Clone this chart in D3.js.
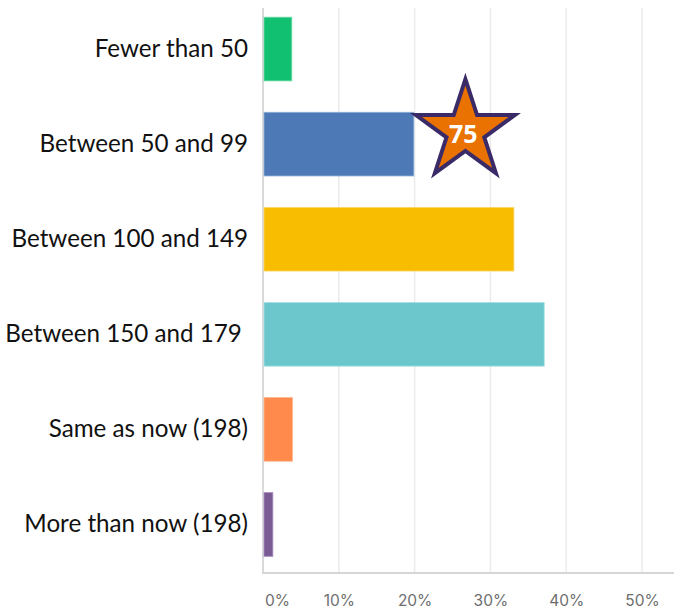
<!DOCTYPE html>
<html><head><meta charset="utf-8">
<script src="https://cdn.jsdelivr.net/npm/d3@7"></script>
<style>html,body{margin:0;padding:0;background:#fff;}svg{display:block;}</style>
</head><body>
<div id="chart"></div>
<script>
const categories = ["Fewer than 50","Between 50 and 99","Between 100 and 149","Between 150 and 179 ","Same as now (198)","More than now (198)"];
const values = [3.8, 19.9, 33.1, 37.1, 3.9, 1.3];
const colors = ["#12c072","#4d7ab6","#f8bd00","#6bc7cc","#ff8a4c","#7b5b94"];
const strokes = ["#6fdca8","#8fb0d8","#fdd86a","#a6e1e4","#ffb88f","#a88cc0"];
const tickValues = [0,10,20,30,40,50];
const starLabel = "75";
const starAt = {category: "Between 50 and 99", value: 26.7};

const W = 674, H = 610;
const svg = d3.select("#chart").append("svg").attr("width", W).attr("height", H);
const x = d3.scaleLinear().domain([0,50]).range([263, 642]);
const y = d3.scaleBand().domain(categories).range([1.5, 572]).paddingInner(0.33).paddingOuter(0.165);

// gridlines
svg.append("g").selectAll("line").data(tickValues.slice(1)).join("line")
  .attr("x1", d => x(d)).attr("x2", d => x(d)).attr("y1", 8).attr("y2", 573)
  .attr("stroke", "#ebebeb").attr("stroke-width", 1.5);

// axis frame
svg.append("path").attr("d", `M${x(0)},8 V573 H674`).attr("fill","none")
  .attr("stroke","#d6d6d6").attr("stroke-width",1.8);

// bars
svg.append("g").selectAll("rect").data(categories).join("rect")
  .attr("x", x(0)+1).attr("y", d => y(d))
  .attr("width", (d,i) => x(values[i]) - x(0) - 1)
  .attr("height", y.bandwidth())
  .attr("fill", (d,i) => colors[i])
  .attr("stroke", (d,i) => strokes[i]).attr("stroke-width", 0.8);

// category labels
svg.append("g").selectAll("text").data(categories).join("text")
  .attr("x", 248).attr("y", d => y(d) + y.bandwidth()/2)
  .attr("dy", "0.33em").attr("text-anchor","end")
  .style("white-space","pre")
  .attr("font-family","Lato, 'Open Sans', sans-serif").attr("font-size", 24.2)
  .attr("fill","#111").text(d => d);

// x tick labels
const xAxis = d3.axisBottom(x).tickValues(tickValues).tickSize(0).tickPadding(0).tickFormat(d => d + "%");
const gx = svg.append("g").attr("transform","translate(0,601)").call(xAxis);
gx.select(".domain").remove();
gx.selectAll("text").attr("font-family","Inter, Roboto, sans-serif").attr("font-size",15.5)
  .attr("fill","#6e6e6e").attr("dy","0.3em")
  .attr("dx", d => d === 0 ? 14 : 0);

// star annotation
const cx = x(starAt.value), cy = y(starAt.category) + y.bandwidth()/2 - 13;
const R = 52, r = R * 0.382;
const pts = d3.range(10).map(i => {
  const a = -Math.PI/2 + i * Math.PI/5;
  const rad = i % 2 === 0 ? R : r;
  return [cx + rad*Math.cos(a), cy + rad*Math.sin(a)];
});
svg.append("path").attr("d", "M" + pts.join("L") + "Z")
  .attr("fill","#e97200").attr("stroke","#3a2b68").attr("stroke-width",4).attr("stroke-linejoin","miter");
svg.append("text").attr("x", cx-2).attr("y", cy+3).attr("dy","0.35em").attr("text-anchor","middle")
  .attr("font-family","'Open Sans', sans-serif").attr("font-weight","bold").attr("font-size",25)
  .attr("fill","#fff").text(starLabel);
</script>
</body></html>
